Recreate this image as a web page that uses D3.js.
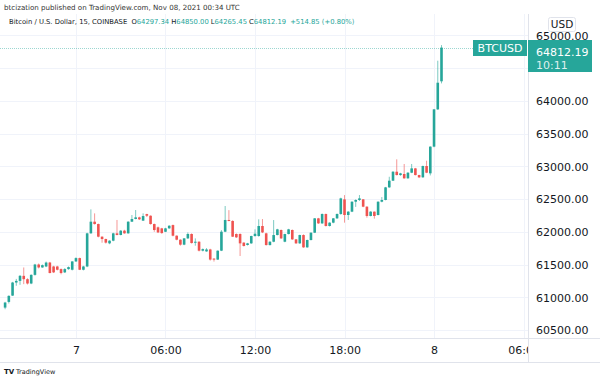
<!DOCTYPE html>
<html><head><meta charset="utf-8">
<script src="https://cdn.jsdelivr.net/npm/d3@7"></script>
<style>html,body{margin:0;padding:0;background:#fff;}svg{display:block;}</style>
</head><body>
<svg id="c" width="600" height="381"></svg>
<script>
const startTime = "2021-11-06T19:15:00Z";
const stepMinutes = 15;
const opens  = [60842,60929,61025,61225,61250,61327,61276,61210,61342,61500,61455,61470,61530,61470,61470,61430,61380,61430,61420,61547,61598,61420,61470,61976,62154,62118,61925,61889,61823,61864,61976,61951,62017,61976,62154,62195,62220,62170,62270,62245,62118,62068,62052,62000,62052,62102,61940,61879,61803,61899,61966,61833,61848,61711,61700,61730,61590,61575,61711,62001,62180,62165,61966,61966,61834,61798,61823,61935,61935,62088,61976,61797,61848,61950,62027,61848,61965,62027,61884,61823,61950,61762,61874,61986,62205,62128,62271,62088,62139,62205,62271,62495,62256,62307,62459,62485,62495,62383,62241,62307,62256,62459,62485,62678,62780,62917,62866,62882,62816,62902,62968,62866,62831,63004,62892,63300,63869,64297.34];
const highs  = [60930,61030,61235,61280,61340,61455,61290,61350,61510,61515,61500,61545,61540,61480,61480,61440,61445,61470,61550,61610,61605,61480,61985,62342,62281,62125,61930,61895,61870,61985,62180,62025,62030,62160,62256,62332,62230,62281,62275,62250,62125,62080,62060,62060,62100,62110,61945,61885,61905,61990,61975,61899,61855,61745,61750,61740,61595,61715,62025,62393,62330,62175,61975,61975,61840,61830,61940,62037,62190,62194,61985,61855,62179,62045,62035,61970,62045,62035,61890,61955,61960,61880,61990,62210,62212,62280,62278,62145,62210,62280,62520,62560,62315,62465,62495,62561,62500,62390,62315,62310,62465,62530,62685,62840,62925,63106,62900,63035,62910,63035,62975,62870,63010,63085,63305,63875,64612,64850.00];
const lows   = [60817,60905,61020,61175,61190,61200,61195,61200,61330,61440,61450,61460,61365,61370,61410,61350,61370,61420,61410,61540,61415,61410,61460,61970,62110,61915,61833,61820,61810,61855,61945,61945,61970,61970,62150,62190,62180,62165,62225,62110,62000,61980,61970,61995,62045,61930,61870,61788,61795,61890,61820,61787,61700,61700,61695,61560,61545,61570,61705,61995,62160,61920,61905,61630,61775,61790,61815,61925,61925,61980,61790,61790,61840,61945,61890,61840,61960,61875,61815,61815,61755,61755,61868,61980,62120,62120,62080,62080,62130,62195,62260,62139,62180,62300,62380,62470,62375,62215,62235,62200,62250,62450,62480,62670,62775,62860,62855,62810,62810,62895,62860,62820,62825,62895,62860,63290,63860,64265.45];
const closes = [60919,61021,61225,61250,61327,61276,61210,61342,61500,61455,61490,61530,61370,61380,61420,61370,61430,61460,61547,61598,61420,61470,61976,62154,62118,61925,61889,61834,61864,61976,61951,62017,61976,62154,62195,62220,62190,62240,62245,62118,62027,61990,61980,62052,62092,61940,61879,61803,61899,61966,61828,61848,61711,61735,61730,61575,61580,61711,62001,62180,62165,61925,61915,61823,61783,61823,61935,61970,62088,61990,61797,61848,61950,62037,61899,61965,62037,61884,61823,61950,61762,61874,61986,62205,62128,62271,62088,62139,62205,62271,62510,62256,62307,62459,62485,62510,62383,62241,62307,62241,62459,62485,62678,62780,62917,62866,62892,62816,62902,62968,62866,62831,63004,62902,63300,63869,64276,64812.19];
const yTicks = [60500,61000,61500,62000,62500,63000,63500,64000,64500,65000];
const xTickTimes = ["2021-11-07T00:00:00Z","2021-11-07T06:00:00Z","2021-11-07T12:00:00Z","2021-11-07T18:00:00Z","2021-11-08T00:00:00Z","2021-11-08T06:00:00Z"];
const lastPrice = 64812.19;
const headerLine1 = "btcization published on TradingView.com, Nov 08, 2021 00:34 UTC";
const symbolText = "Bitcoin / U.S. Dollar, 15, COINBASE";
const ohlcLabels = [["O","64297.34"],["H","64850.00"],["L","64265.45"],["C","64812.19"]];
const changeText = "+514.85 (+0.80%)";

const up = "#26a69a", down = "#ef5350";
const font = "'DejaVu Sans', sans-serif";
const svg = d3.select("#c");
const t0 = new Date(startTime);
const data = opens.map((o,i)=>({t:new Date(t0.getTime()+i*stepMinutes*60000),o,h:highs[i],l:lows[i],c:closes[i]}));

const plotL=0, plotR=528, plotT=14, plotB=338;
const x = d3.scaleTime().domain([t0, data[data.length-1].t]).range([5.1, 441.5]);
const y = d3.scaleLinear().domain([60500,65000]).range([330,35.3]);

// grid
const grid = svg.append("g");
grid.selectAll("line.h").data(yTicks).join("line")
  .attr("x1",plotL).attr("x2",plotR).attr("y1",d=>Math.round(y(d))+0.5).attr("y2",d=>Math.round(y(d))+0.5)
  .attr("stroke","#f0f3fa").attr("stroke-width",1);
grid.selectAll("line.v").data(xTickTimes.map(d=>new Date(d))).join("line")
  .attr("y1",plotT).attr("y2",plotB).attr("x1",d=>Math.round(x(d))+0.5).attr("x2",d=>Math.round(x(d))+0.5)
  .attr("stroke","#f0f3fa").attr("stroke-width",1);

svg.append("clipPath").attr("id","clip").append("rect").attr("x",plotL).attr("y",plotT).attr("width",plotR-plotL).attr("height",plotB-plotT);
const plot = svg.append("g").attr("clip-path","url(#clip)");

// last price line
plot.append("line").attr("x1",plotL).attr("x2",plotR).attr("y1",Math.round(y(lastPrice))+0.5).attr("y2",Math.round(y(lastPrice))+0.5)
  .attr("stroke",up).attr("stroke-opacity",0.45).attr("stroke-dasharray","1,1");

const bw = 2.6;
const cg = plot.selectAll("g.c").data(data).join("g");
cg.append("line").attr("x1",d=>x(d.t)).attr("x2",d=>x(d.t)).attr("y1",d=>y(d.h)).attr("y2",d=>y(d.l))
  .attr("stroke",d=>d.c>=d.o?up:down).attr("stroke-width",1).attr("stroke-opacity",0.6);
cg.append("rect").attr("x",d=>x(d.t)-bw/2).attr("width",bw)
  .attr("y",d=>y(Math.max(d.o,d.c))).attr("height",d=>Math.max(1,Math.abs(y(d.o)-y(d.c))))
  .attr("fill",d=>d.c>=d.o?up:down);

// borders
svg.append("line").attr("x1",plotR+0.5).attr("x2",plotR+0.5).attr("y1",plotT).attr("y2",362).attr("stroke","#e0e3eb");
svg.append("line").attr("x1",0).attr("x2",600).attr("y1",plotB+0.5).attr("y2",plotB+0.5).attr("stroke","#e0e3eb");
svg.append("line").attr("x1",0).attr("x2",600).attr("y1",362.5).attr("y2",362.5).attr("stroke","#e0e3eb");

// y axis (the label hidden under the price badge is clipped out)
const yclip = svg.append("clipPath").attr("id","yclip");
yclip.append("rect").attr("x",529).attr("y",0).attr("width",71).attr("height",40);
yclip.append("rect").attr("x",529).attr("y",72).attr("width",71).attr("height",266);
const yAxis = d3.axisRight(y).tickValues(yTicks).tickSize(0).tickPadding(0).tickFormat(d3.format(".2f"));
const yg = svg.append("g").attr("clip-path","url(#yclip)").append("g").attr("transform",`translate(536,0)`).call(yAxis);
yg.select(".domain").remove();
yg.selectAll("text").attr("font-family",font).attr("font-size",11).attr("fill","#131722").attr("x",0).attr("dy","0.35em");

// x axis
const xAxis = d3.axisBottom(x).tickValues(xTickTimes.map(d=>new Date(d))).tickSize(0).tickPadding(0)
  .tickFormat(d=> (d.getUTCHours()===0 && d.getUTCMinutes()===0) ? String(d.getUTCDate()) : d3.utcFormat("%H:%M")(d));
svg.append("clipPath").attr("id","xclip").append("rect").attr("x",0).attr("y",338).attr("width",528).attr("height",24);
const xg = svg.append("g").attr("clip-path","url(#xclip)").append("g").attr("transform","translate(0,350)").call(xAxis);
xg.select(".domain").remove();
xg.selectAll("text").attr("font-family",font).attr("font-size",11).attr("fill","#131722").attr("dy","0.35em");

// USD label
const usd = svg.append("g");
usd.append("rect").attr("x",548.5).attr("y",17.5).attr("width",27).attr("height",14).attr("rx",2).attr("fill","#fff").attr("stroke","#e0e3eb");
usd.append("text").attr("x",562).attr("y",28).attr("text-anchor","middle").attr("font-family",font).attr("font-size",10.5).attr("fill","#131722").text("USD");

// price badge
svg.append("rect").attr("x",528).attr("y",40).attr("width",64).attr("height",32).attr("fill",up);
svg.append("text").attr("x",536).attr("y",52).attr("dy","0.35em").attr("font-family",font).attr("font-size",11).attr("fill","#fff").text(d3.format(".2f")(lastPrice));
svg.append("text").attr("x",536).attr("y",65).attr("dy","0.35em").attr("font-family",font).attr("font-size",11).attr("fill","#fff").attr("fill-opacity",0.85).text("10:11");
svg.append("rect").attr("x",473).attr("y",40).attr("width",54).attr("height",16).attr("fill",up);
svg.append("text").attr("x",500).attr("y",48).attr("dy","0.35em").attr("text-anchor","middle").attr("font-family",font).attr("font-size",11).attr("fill","#fff").text("BTCUSD");

// header
svg.append("text").attr("x",4).attr("y",10).attr("font-family",font).attr("font-size",7.1).attr("fill","#333").text(headerLine1);
const h2 = svg.append("text").attr("x",9).attr("y",24).attr("font-family",font).attr("font-size",6.8).attr("fill","#131722");
h2.append("tspan").text(symbolText+" ");
ohlcLabels.forEach(([k,v])=>{ h2.append("tspan").attr("dx",2).text(k); h2.append("tspan").attr("fill",up).text(v); });
h2.append("tspan").attr("dx",4).attr("fill",up).text(changeText);

// footer
const ft = svg.append("g").attr("transform","translate(4,368)");
ft.append("text").attr("x",0).attr("y",6).attr("font-family",font).attr("font-size",7).attr("font-weight","bold").attr("fill","#131722").text("TV");
ft.append("text").attr("x",12).attr("y",6).attr("font-family",font).attr("font-size",6.5).attr("fill","#131722").text("TradingView");
</script>
</body></html>
